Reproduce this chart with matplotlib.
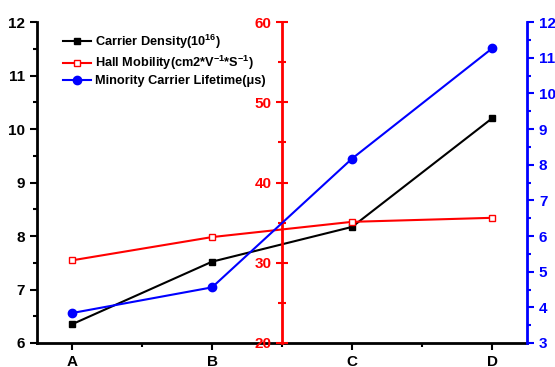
import numpy as np
import matplotlib.pyplot as plt
from matplotlib.ticker import MultipleLocator

plt.rcParams['font.family'] = ['Liberation Sans', 'DejaVu Sans']
plt.rcParams['font.weight'] = 'bold'
plt.rcParams['mathtext.fontset'] = 'custom'
plt.rcParams['mathtext.rm'] = 'Liberation Sans:bold'
plt.rcParams['mathtext.bf'] = 'Liberation Sans:bold'

# Daten
samples = ['A', 'B', 'C', 'D']
carrier_density = [6.35, 7.52, 8.17, 10.2]
hall_mobility = [30.3, 33.2, 35.1, 35.6]
lifetime = [3.84, 4.56, 8.17, 11.26]

x = np.arange(len(samples))

fig = plt.figure(figsize=(5.55, 3.67), dpi=100)
ax = fig.add_axes([0.0667, 0.0654, 0.883, 0.8746])
ax2 = ax.twinx()  # Hall mobility, Achse in der Mitte
ax3 = ax.twinx()  # Lebensdauer, rechts

lw = 1.5
l1, = ax.plot(x, carrier_density, color='black', marker='s', ms=5, lw=lw,
              label=r'Carrier Density(10$^{16}$)')
l2, = ax2.plot(x, hall_mobility, color='red', marker='s', ms=5, lw=lw,
               mfc='white', mec='red', mew=1,
               label=r'Hall Mobility(cm2*V$^{-1}$*S$^{-1}$)')
l3, = ax3.plot(x, lifetime, color='blue', marker='o', ms=6, lw=lw,
               label='Minority Carrier Lifetime(μs)')

ax.set_xlim(-0.25, 3.25)
ax.set_ylim(6, 12)
ax2.set_ylim(20, 60)
ax3.set_ylim(3, 12)

ax.set_xticks(x)
ax.set_xticklabels(samples)
ax.xaxis.set_minor_locator(MultipleLocator(0.5))
ax.yaxis.set_major_locator(MultipleLocator(1))
ax.yaxis.set_minor_locator(MultipleLocator(0.5))
ax2.yaxis.set_major_locator(MultipleLocator(10))
ax2.yaxis.set_minor_locator(MultipleLocator(5))
ax3.yaxis.set_major_locator(MultipleLocator(1))
ax3.yaxis.set_minor_locator(MultipleLocator(0.5))

for a in (ax, ax2, ax3):
    for s in a.spines.values():
        s.set_visible(False)
        s.set_linewidth(2)

ax.spines['left'].set_visible(True)
ax.spines['bottom'].set_visible(True)
ax.tick_params(axis='both', which='major', labelsize=11, width=1.5, length=5, direction='out')
ax.tick_params(axis='both', which='minor', width=1.5, length=3, direction='out')

# rote Achse in der Mitte
ax2.yaxis.tick_left()
ax2.spines['left'].set_visible(True)
ax2.spines['left'].set_position(('data', 1.5))
ax2.spines['left'].set_color('red')
ax2.tick_params(axis='y', which='major', colors='red', labelsize=11, width=1.5,
                length=8, direction='inout')
ax2.tick_params(axis='y', which='minor', colors='red', width=1.5, length=6,
                direction='inout')

# blaue Achse rechts
ax3.spines['right'].set_visible(True)
ax3.spines['right'].set_color('blue')
ax3.tick_params(axis='y', which='major', colors='blue', labelsize=11, width=1.5,
                length=5, direction='out')
ax3.tick_params(axis='y', which='minor', colors='blue', width=1.5, length=3,
                direction='out')

ax.legend(handles=[l1, l2, l3], loc='upper left', bbox_to_anchor=(0.035, 0.995),
          frameon=False, fontsize=9.2, handlelength=2.2, handletextpad=0.3,
          labelspacing=0.25, borderaxespad=0.3)

fig.savefig('out.png', dpi=100)
